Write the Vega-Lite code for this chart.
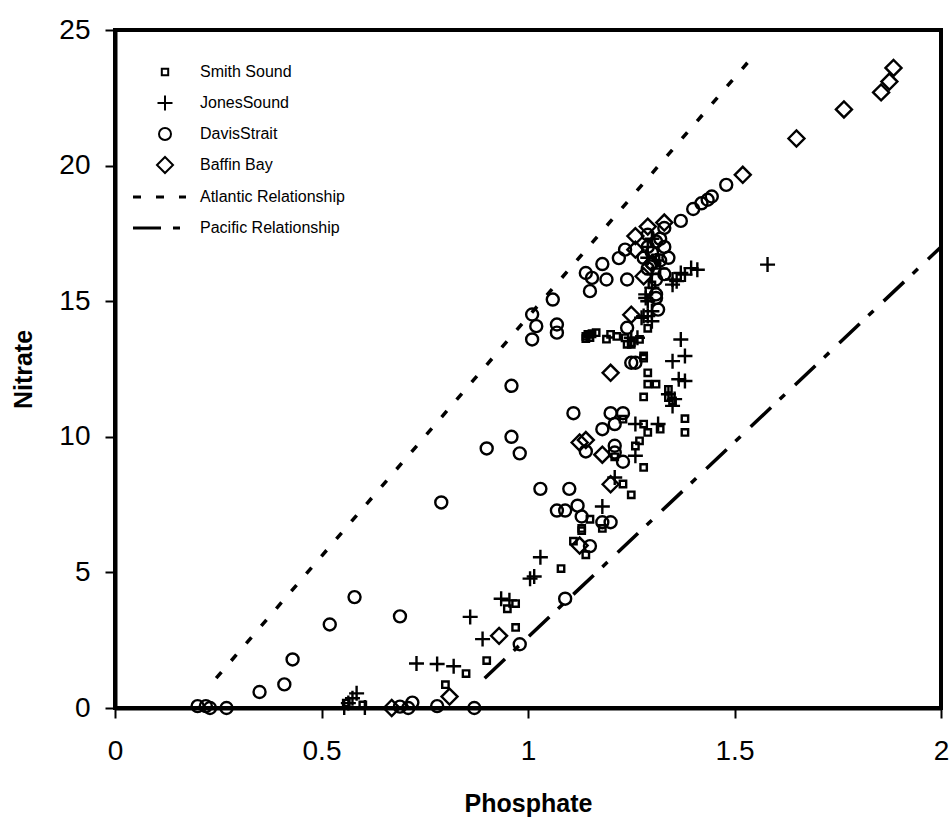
{
  "$schema": "https://vega.github.io/schema/vega-lite/v6.json",
  "width": 826,
  "height": 678,
  "autosize": {"type": "none"},
  "padding": {"left": 115, "top": 30, "right": 8, "bottom": 114},
  "background": "white",
  "config": {
    "view": {"stroke": "black", "strokeWidth": 4},
    "font": "Liberation Sans",
    "axis": {
      "grid": false,
      "domainColor": "black",
      "domainWidth": 4,
      "tickColor": "black",
      "tickWidth": 2,
      "tickSize": 10,
      "labelFont": "Liberation Sans",
      "labelFontSize": 28,
      "labelColor": "black",
      "labelFlush": false,
      "labelOverlap": false,
      "titleFont": "Liberation Sans",
      "titleFontSize": 25,
      "titleFontWeight": "bold",
      "titleColor": "black"
    },
    "legend": {
      "labelFont": "Liberation Sans",
      "labelFontSize": 16,
      "labelColor": "black"
    }
  },
  "datasets": {
    "pts": [
      {"series": "Smith Sound", "P": 0.56, "N": 0.18},
      {"series": "Smith Sound", "P": 0.60, "N": 0.11},
      {"series": "Smith Sound", "P": 0.80, "N": 0.86},
      {"series": "Smith Sound", "P": 0.85, "N": 1.27},
      {"series": "Smith Sound", "P": 0.90, "N": 1.75},
      {"series": "Smith Sound", "P": 0.97, "N": 2.97},
      {"series": "Smith Sound", "P": 0.95, "N": 3.66},
      {"series": "Smith Sound", "P": 0.97, "N": 3.85},
      {"series": "Smith Sound", "P": 1.08, "N": 5.14},
      {"series": "Smith Sound", "P": 1.14, "N": 5.65},
      {"series": "Smith Sound", "P": 1.11, "N": 6.15},
      {"series": "Smith Sound", "P": 1.13, "N": 6.54},
      {"series": "Smith Sound", "P": 1.13, "N": 6.62},
      {"series": "Smith Sound", "P": 1.18, "N": 6.62},
      {"series": "Smith Sound", "P": 1.15, "N": 6.96},
      {"series": "Smith Sound", "P": 1.23, "N": 8.26},
      {"series": "Smith Sound", "P": 1.25, "N": 7.86},
      {"series": "Smith Sound", "P": 1.21, "N": 9.26},
      {"series": "Smith Sound", "P": 1.28, "N": 8.87},
      {"series": "Smith Sound", "P": 1.27, "N": 9.85},
      {"series": "Smith Sound", "P": 1.26, "N": 9.66},
      {"series": "Smith Sound", "P": 1.29, "N": 10.16},
      {"series": "Smith Sound", "P": 1.32, "N": 10.28},
      {"series": "Smith Sound", "P": 1.23, "N": 10.65},
      {"series": "Smith Sound", "P": 1.28, "N": 10.47},
      {"series": "Smith Sound", "P": 1.38, "N": 10.67},
      {"series": "Smith Sound", "P": 1.38, "N": 10.16},
      {"series": "Smith Sound", "P": 1.28, "N": 11.47},
      {"series": "Smith Sound", "P": 1.29, "N": 11.94},
      {"series": "Smith Sound", "P": 1.31, "N": 11.94},
      {"series": "Smith Sound", "P": 1.34, "N": 11.75},
      {"series": "Smith Sound", "P": 1.34, "N": 11.45},
      {"series": "Smith Sound", "P": 1.35, "N": 11.32},
      {"series": "Smith Sound", "P": 1.29, "N": 12.36},
      {"series": "Smith Sound", "P": 1.28, "N": 12.98},
      {"series": "Smith Sound", "P": 1.28, "N": 12.90},
      {"series": "Smith Sound", "P": 1.24, "N": 13.41},
      {"series": "Smith Sound", "P": 1.25, "N": 13.41},
      {"series": "Smith Sound", "P": 1.14, "N": 13.70},
      {"series": "Smith Sound", "P": 1.145, "N": 13.78},
      {"series": "Smith Sound", "P": 1.155, "N": 13.80},
      {"series": "Smith Sound", "P": 1.165, "N": 13.84},
      {"series": "Smith Sound", "P": 1.19, "N": 13.60},
      {"series": "Smith Sound", "P": 1.20, "N": 13.78},
      {"series": "Smith Sound", "P": 1.215, "N": 13.70},
      {"series": "Smith Sound", "P": 1.235, "N": 13.65},
      {"series": "Smith Sound", "P": 1.25, "N": 13.47},
      {"series": "Smith Sound", "P": 1.27, "N": 13.59},
      {"series": "Smith Sound", "P": 1.14, "N": 13.62},
      {"series": "Smith Sound", "P": 1.15, "N": 13.66},
      {"series": "Smith Sound", "P": 1.30, "N": 15.6},
      {"series": "Smith Sound", "P": 1.31, "N": 16.6},
      {"series": "Smith Sound", "P": 1.29, "N": 14.0},
      {"series": "JonesSound", "P": 0.555, "N": 0.02},
      {"series": "JonesSound", "P": 0.565, "N": 0.18},
      {"series": "JonesSound", "P": 0.575, "N": 0.36},
      {"series": "JonesSound", "P": 0.585, "N": 0.54},
      {"series": "JonesSound", "P": 0.605, "N": 0.02},
      {"series": "JonesSound", "P": 0.73, "N": 1.64},
      {"series": "JonesSound", "P": 0.78, "N": 1.62},
      {"series": "JonesSound", "P": 0.82, "N": 1.54},
      {"series": "JonesSound", "P": 0.86, "N": 3.36},
      {"series": "JonesSound", "P": 0.89, "N": 2.54},
      {"series": "JonesSound", "P": 0.935, "N": 4.03},
      {"series": "JonesSound", "P": 0.955, "N": 3.97},
      {"series": "JonesSound", "P": 1.005, "N": 4.77},
      {"series": "JonesSound", "P": 1.015, "N": 4.85},
      {"series": "JonesSound", "P": 1.03, "N": 5.56},
      {"series": "JonesSound", "P": 1.18, "N": 7.43},
      {"series": "JonesSound", "P": 1.21, "N": 8.5},
      {"series": "JonesSound", "P": 1.26, "N": 9.3},
      {"series": "JonesSound", "P": 1.26, "N": 10.47},
      {"series": "JonesSound", "P": 1.315, "N": 10.47},
      {"series": "JonesSound", "P": 1.35, "N": 11.14},
      {"series": "JonesSound", "P": 1.34, "N": 11.57},
      {"series": "JonesSound", "P": 1.355, "N": 11.39},
      {"series": "JonesSound", "P": 1.365, "N": 12.12},
      {"series": "JonesSound", "P": 1.38, "N": 12.06},
      {"series": "JonesSound", "P": 1.35, "N": 12.79},
      {"series": "JonesSound", "P": 1.38, "N": 12.98},
      {"series": "JonesSound", "P": 1.37, "N": 13.59},
      {"series": "JonesSound", "P": 1.25, "N": 13.65},
      {"series": "JonesSound", "P": 1.265, "N": 13.65},
      {"series": "JonesSound", "P": 1.28, "N": 14.45},
      {"series": "JonesSound", "P": 1.30, "N": 14.26},
      {"series": "JonesSound", "P": 1.275, "N": 14.39},
      {"series": "JonesSound", "P": 1.29, "N": 14.45},
      {"series": "JonesSound", "P": 1.30, "N": 14.63},
      {"series": "JonesSound", "P": 1.285, "N": 15.12},
      {"series": "JonesSound", "P": 1.29, "N": 15.0},
      {"series": "JonesSound", "P": 1.285, "N": 15.25},
      {"series": "JonesSound", "P": 1.35, "N": 15.61},
      {"series": "JonesSound", "P": 1.35, "N": 15.8},
      {"series": "JonesSound", "P": 1.36, "N": 15.74},
      {"series": "JonesSound", "P": 1.37, "N": 16.04},
      {"series": "JonesSound", "P": 1.38, "N": 15.98},
      {"series": "JonesSound", "P": 1.395, "N": 16.22},
      {"series": "JonesSound", "P": 1.41, "N": 16.16},
      {"series": "JonesSound", "P": 1.58, "N": 16.35},
      {"series": "JonesSound", "P": 1.30, "N": 16.0},
      {"series": "JonesSound", "P": 1.31, "N": 16.5},
      {"series": "JonesSound", "P": 1.29, "N": 17.0},
      {"series": "JonesSound", "P": 1.30, "N": 15.5},
      {"series": "JonesSound", "P": 1.32, "N": 16.2},
      {"series": "JonesSound", "P": 1.29, "N": 16.6},
      {"series": "JonesSound", "P": 1.30, "N": 17.3},
      {"series": "DavisStrait", "P": 0.20, "N": 0.07},
      {"series": "DavisStrait", "P": 0.22, "N": 0.07},
      {"series": "DavisStrait", "P": 0.23, "N": 0.0},
      {"series": "DavisStrait", "P": 0.27, "N": 0.0},
      {"series": "DavisStrait", "P": 0.35, "N": 0.59},
      {"series": "DavisStrait", "P": 0.41, "N": 0.87},
      {"series": "DavisStrait", "P": 0.43, "N": 1.79},
      {"series": "DavisStrait", "P": 0.52, "N": 3.08},
      {"series": "DavisStrait", "P": 0.58, "N": 4.09},
      {"series": "DavisStrait", "P": 0.69, "N": 3.38},
      {"series": "DavisStrait", "P": 0.69, "N": 0.05},
      {"series": "DavisStrait", "P": 0.71, "N": 0.0},
      {"series": "DavisStrait", "P": 0.72, "N": 0.2},
      {"series": "DavisStrait", "P": 0.78, "N": 0.07},
      {"series": "DavisStrait", "P": 0.87, "N": 0.0},
      {"series": "DavisStrait", "P": 0.98, "N": 2.35},
      {"series": "DavisStrait", "P": 1.09, "N": 4.03},
      {"series": "DavisStrait", "P": 0.79, "N": 7.58},
      {"series": "DavisStrait", "P": 0.90, "N": 9.57},
      {"series": "DavisStrait", "P": 0.96, "N": 10.0},
      {"series": "DavisStrait", "P": 0.98, "N": 9.39},
      {"series": "DavisStrait", "P": 0.96, "N": 11.88},
      {"series": "DavisStrait", "P": 1.03, "N": 8.08},
      {"series": "DavisStrait", "P": 1.10, "N": 8.08},
      {"series": "DavisStrait", "P": 1.07, "N": 7.28},
      {"series": "DavisStrait", "P": 1.09, "N": 7.28},
      {"series": "DavisStrait", "P": 1.12, "N": 7.46},
      {"series": "DavisStrait", "P": 1.13, "N": 7.06},
      {"series": "DavisStrait", "P": 1.18, "N": 6.85},
      {"series": "DavisStrait", "P": 1.20, "N": 6.85},
      {"series": "DavisStrait", "P": 1.15, "N": 5.97},
      {"series": "DavisStrait", "P": 1.11, "N": 10.87},
      {"series": "DavisStrait", "P": 1.20, "N": 10.87},
      {"series": "DavisStrait", "P": 1.23, "N": 10.87},
      {"series": "DavisStrait", "P": 1.21, "N": 10.47},
      {"series": "DavisStrait", "P": 1.18, "N": 10.28},
      {"series": "DavisStrait", "P": 1.14, "N": 9.46},
      {"series": "DavisStrait", "P": 1.21, "N": 9.67},
      {"series": "DavisStrait", "P": 1.21, "N": 9.42},
      {"series": "DavisStrait", "P": 1.23, "N": 9.08},
      {"series": "DavisStrait", "P": 1.25, "N": 12.73},
      {"series": "DavisStrait", "P": 1.26, "N": 12.73},
      {"series": "DavisStrait", "P": 1.24, "N": 14.02},
      {"series": "DavisStrait", "P": 1.01, "N": 13.59},
      {"series": "DavisStrait", "P": 1.02, "N": 14.08},
      {"series": "DavisStrait", "P": 1.01, "N": 14.51},
      {"series": "DavisStrait", "P": 1.07, "N": 14.14},
      {"series": "DavisStrait", "P": 1.07, "N": 13.84},
      {"series": "DavisStrait", "P": 1.06, "N": 15.06},
      {"series": "DavisStrait", "P": 1.14, "N": 16.04},
      {"series": "DavisStrait", "P": 1.155, "N": 15.86},
      {"series": "DavisStrait", "P": 1.15, "N": 15.37},
      {"series": "DavisStrait", "P": 1.18, "N": 16.37},
      {"series": "DavisStrait", "P": 1.19, "N": 15.8},
      {"series": "DavisStrait", "P": 1.24, "N": 15.8},
      {"series": "DavisStrait", "P": 1.22, "N": 16.59},
      {"series": "DavisStrait", "P": 1.235, "N": 16.9},
      {"series": "DavisStrait", "P": 1.29, "N": 17.45},
      {"series": "DavisStrait", "P": 1.33, "N": 17.7},
      {"series": "DavisStrait", "P": 1.37, "N": 17.96},
      {"series": "DavisStrait", "P": 1.40, "N": 18.4},
      {"series": "DavisStrait", "P": 1.42, "N": 18.61},
      {"series": "DavisStrait", "P": 1.435, "N": 18.74},
      {"series": "DavisStrait", "P": 1.445, "N": 18.86},
      {"series": "DavisStrait", "P": 1.48, "N": 19.29},
      {"series": "DavisStrait", "P": 1.31, "N": 15.25},
      {"series": "DavisStrait", "P": 1.315, "N": 14.69},
      {"series": "DavisStrait", "P": 1.31, "N": 15.12},
      {"series": "DavisStrait", "P": 1.29, "N": 16.2},
      {"series": "DavisStrait", "P": 1.30, "N": 16.8},
      {"series": "DavisStrait", "P": 1.31, "N": 17.2},
      {"series": "DavisStrait", "P": 1.32, "N": 16.5},
      {"series": "DavisStrait", "P": 1.33, "N": 16.0},
      {"series": "DavisStrait", "P": 1.29, "N": 17.0},
      {"series": "DavisStrait", "P": 1.30, "N": 16.4},
      {"series": "DavisStrait", "P": 1.32, "N": 17.3},
      {"series": "DavisStrait", "P": 1.34, "N": 16.6},
      {"series": "DavisStrait", "P": 1.28, "N": 16.6},
      {"series": "DavisStrait", "P": 1.31, "N": 15.8},
      {"series": "DavisStrait", "P": 1.33, "N": 17.0},
      {"series": "Baffin Bay", "P": 0.67, "N": 0.0},
      {"series": "Baffin Bay", "P": 0.81, "N": 0.42},
      {"series": "Baffin Bay", "P": 0.93, "N": 2.66},
      {"series": "Baffin Bay", "P": 1.125, "N": 5.99},
      {"series": "Baffin Bay", "P": 1.20, "N": 8.25},
      {"series": "Baffin Bay", "P": 1.125, "N": 9.79},
      {"series": "Baffin Bay", "P": 1.14, "N": 9.88},
      {"series": "Baffin Bay", "P": 1.18, "N": 9.34},
      {"series": "Baffin Bay", "P": 1.20, "N": 12.36},
      {"series": "Baffin Bay", "P": 1.25, "N": 14.5},
      {"series": "Baffin Bay", "P": 1.28, "N": 15.92},
      {"series": "Baffin Bay", "P": 1.26, "N": 16.9},
      {"series": "Baffin Bay", "P": 1.26, "N": 17.4},
      {"series": "Baffin Bay", "P": 1.29, "N": 17.75},
      {"series": "Baffin Bay", "P": 1.33, "N": 17.9},
      {"series": "Baffin Bay", "P": 1.52, "N": 19.66},
      {"series": "Baffin Bay", "P": 1.65, "N": 21.0},
      {"series": "Baffin Bay", "P": 1.765, "N": 22.07},
      {"series": "Baffin Bay", "P": 1.855, "N": 22.7},
      {"series": "Baffin Bay", "P": 1.875, "N": 23.1},
      {"series": "Baffin Bay", "P": 1.885, "N": 23.6},
      {"series": "Baffin Bay", "P": 1.30, "N": 16.4}
    ],
    "rels": [
      {"rel": "Atlantic Relationship", "P": 0.245, "N": 1.1},
      {"rel": "Atlantic Relationship", "P": 1.546, "N": 24.05},
      {"rel": "Pacific Relationship", "P": 0.895, "N": 1.1},
      {"rel": "Pacific Relationship", "P": 2.0, "N": 17.0}
    ]
  },
  "layer": [
    {
      "data": {"name": "rels"},
      "mark": {"type": "line", "color": "black", "strokeWidth": 3.5, "strokeCap": "butt"},
      "encoding": {
        "x": {"field": "P", "type": "quantitative", "scale": {"domain": [0, 2], "nice": false},
              "axis": {"title": "Phosphate", "values": [0, 0.5, 1, 1.5, 2], "format": "~g", "labelPadding": 19, "titlePadding": 26}},
        "y": {"field": "N", "type": "quantitative", "scale": {"domain": [0, 25], "nice": false},
              "axis": {"title": "Nitrate", "values": [0, 5, 10, 15, 20, 25], "format": "~g", "labelPadding": 15, "titlePadding": 22}},
        "strokeDash": {
          "field": "rel", "type": "nominal",
          "scale": {"domain": ["Atlantic Relationship", "Pacific Relationship"], "range": [[8, 15], [28, 12, 7, 14]]},
          "legend": {"title": null, "orient": "none", "legendX": 36.5, "legendY": 159, "symbolType": "M-26.5,0L26.5,0", "symbolSize": 4, "symbolStrokeWidth": 3, "symbolStrokeColor": "black", "symbolFillColor": "transparent", "labelOffset": 32.5, "rowPadding": 15, "gridAlign": "all"}
        }
      }
    },
    {
      "data": {"name": "pts"},
      "mark": {"type": "point", "filled": false, "color": "black", "strokeWidth": 2.4, "opacity": 1, "size": 4},
      "encoding": {
        "x": {"field": "P", "type": "quantitative"},
        "y": {"field": "N", "type": "quantitative"},
        "shape": {
          "field": "series", "type": "nominal",
          "scale": {"domain": ["Smith Sound", "JonesSound", "DavisStrait", "Baffin Bay"],
                    "range": ["M-3.2,-3.2L3.2,-3.2L3.2,3.2L-3.2,3.2Z", "M-7.5,0L7.5,0M0,-7.5L0,7.5", "M-6,0A6,6,0,1,0,6,0A6,6,0,1,0,-6,0Z", "M-8,0L0,-8L8,0L0,8Z"]},
          "legend": {"title": null, "orient": "none", "legendX": 42, "legendY": 34, "labelOffset": 27, "rowPadding": 7, "gridAlign": "all", "symbolSize": 4, "symbolStrokeWidth": 2, "symbolStrokeColor": "black", "symbolFillColor": "transparent"}
        }
      }
    }
  ]
}
